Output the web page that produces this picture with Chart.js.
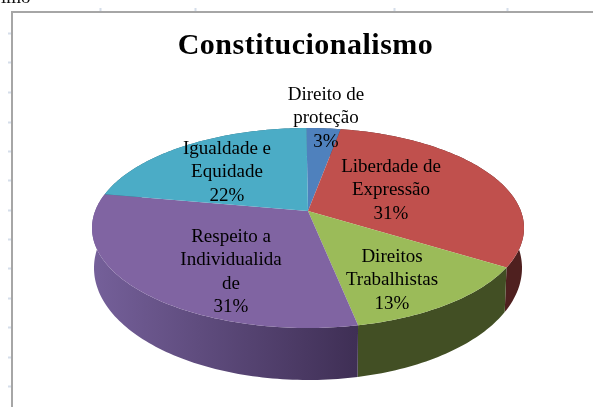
<!DOCTYPE html>
<html><head><meta charset="utf-8">
<style>html,body{margin:0;padding:0;background:#fff}canvas{display:block;filter:blur(.6px)}</style>
<script src="https://cdn.jsdelivr.net/npm/chart.js@4"></script>
</head><body><canvas id="c" width="593" height="407"></canvas>
<script>
const categories = ["Direito de proteção","Liberdade de Expressão","Direitos Trabalhistas","Respeito a Individualidade","Igualdade e Equidade"];
const values = [3,31,13,31,22];
const faceColors = ["#4F81BD","#C0504D","#9BBB59","#8064A2","#4BACC6"];
const sideColors = [["#2f4d71","#2f4d71"],["#4f201f","#4f201f"],["#424f24","#424f24"],["#75609a","#3f2f55"],["#2d6777","#2d6777"]];
const labelLines = [["Direito de","proteção","3%"],["Liberdade de","Expressão","31%"],["Direitos","Trabalhistas","13%"],["Respeito a","Individualida","de","31%"],["Igualdade e","Equidade","22%"]];
const labelAnchors = [[326,95],[391,167],[392,257],[231,237],[227,149]];
const leftTicks = [33,62,92,122,151,180,210,239,268,298,327,357,386];
const topTicks = [100,195,394,507];
const view = {rx:216, k:0.17, sideRx:214, sideRy:1.12, sideCy:40, lineH:23.5};

function project(el, a){
  const u=Math.cos(a), v=Math.sin(a), r=el.outerRadius, w=1-view.k*v;
  const C=view.rx*Math.sqrt(1-view.k*view.k);
  return {x:el.x+C*u/w, y:el.y+(r*v-r*view.k)/w, dx:C*u/w, dy:(r*v-r*view.k)/w};
}
function arcPts(el,a0,a1,side){
  const n=Math.max(4,Math.ceil((a1-a0)/0.02)),pts=[];
  for(let i=0;i<=n;i++){
    const p=project(el,a0+(a1-a0)*i/n);
    pts.push(side?{x:el.x+p.dx*view.sideRx/view.rx,y:el.y+view.sideCy+p.dy*view.sideRy}:p);
  }
  return pts;
}
const pie3d={id:'pie3d',
  beforeDatasetsDraw(chart){
    const ctx=chart.ctx, arcs=chart.getDatasetMeta(0).data;
    ctx.restore();
    ctx.letterSpacing='0px';
    arcs.forEach((el,i)=>{
      const top=arcPts(el,el.startAngle,el.endAngle,false), bot=arcPts(el,el.startAngle,el.endAngle,true).reverse();
      const g=ctx.createLinearGradient(92,0,357,0);
      g.addColorStop(0,sideColors[i][0]);g.addColorStop(1,sideColors[i][1]);
      ctx.fillStyle=g;ctx.beginPath();
      top.concat(bot).forEach((p,j)=>j?ctx.lineTo(p.x,p.y):ctx.moveTo(p.x,p.y));
      ctx.closePath();ctx.fill();
    });
    arcs.forEach((el,i)=>{
      const top=arcPts(el,el.startAngle,el.endAngle,false);
      ctx.fillStyle=el.options.backgroundColor;ctx.beginPath();
      ctx.moveTo(el.x,el.y-el.outerRadius*view.k);
      top.forEach(p=>ctx.lineTo(p.x,p.y));
      ctx.closePath();ctx.fill();
    });
    return false;
  },
  afterDraw(chart){
    const ctx=chart.ctx;ctx.save();
    ctx.fillStyle="#000";ctx.font="19px 'Liberation Serif'";ctx.textAlign="center";ctx.textBaseline="middle";
    labelLines.forEach((ls,i)=>ls.forEach((t,j)=>ctx.fillText(t,labelAnchors[i][0],labelAnchors[i][1]+j*view.lineH)));
    ctx.restore();
  }
};
const frame={id:'frame',
  beforeDraw(chart){
    const ctx=chart.ctx;ctx.save();
    ctx.fillStyle="#fff";ctx.fillRect(0,0,593,407);
    ctx.strokeStyle="#a6a6a6";ctx.lineWidth=2;ctx.beginPath();ctx.moveTo(593,12);ctx.lineTo(12,12);ctx.lineTo(12,407);ctx.stroke();
    ctx.strokeStyle="#d5deea";ctx.lineWidth=2;ctx.beginPath();
    leftTicks.forEach(y=>{ctx.moveTo(8,y+.5);ctx.lineTo(11,y+.5)});
    topTicks.forEach(x=>{ctx.moveTo(x+.5,8);ctx.lineTo(x+.5,11)});
    ctx.stroke();
    ctx.fillStyle="#111";ctx.font="19px 'Liberation Serif'";ctx.textBaseline="alphabetic";ctx.fillText("imo",1,3);
    ctx.restore();
    ctx.save();ctx.translate(-2.5,0);
    ctx.letterSpacing='0.5px';
  }
};
new Chart(document.getElementById('c'),{
  type:'pie',
  data:{labels:categories,datasets:[{data:values,backgroundColor:faceColors,borderWidth:0}]},
  options:{responsive:false,animation:false,rotation:-0.5,
    layout:{padding:{left:23,right:0,top:0,bottom:79}},
    plugins:{legend:{display:false},tooltip:{enabled:false},
      title:{display:true,text:"Constitucionalismo",color:"#000",font:{family:"'Liberation Serif'",size:30,weight:'bold',lineHeight:1.2},padding:{top:28,bottom:64}}}},
  plugins:[frame,pie3d]
});
</script></body></html>
